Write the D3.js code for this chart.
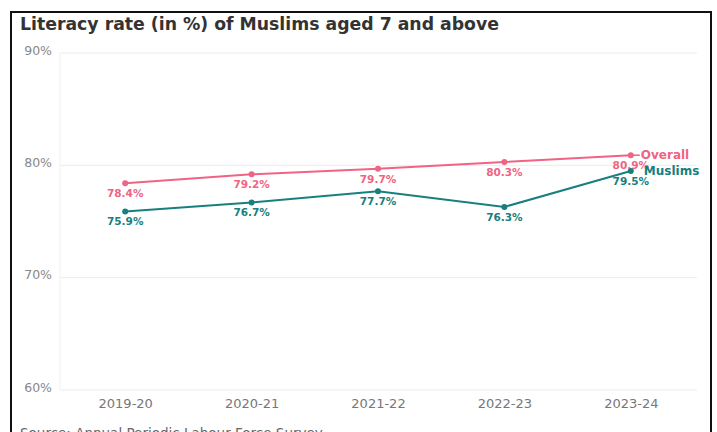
<!DOCTYPE html>
<html><head><meta charset="utf-8">
<script src="https://cdn.jsdelivr.net/npm/d3@7"></script>
<style>body{margin:0;background:#fff;}svg{display:block;}</style>
</head><body>
<svg id="c" width="717" height="432"></svg>
<script>
const categories = ["2019-20","2020-21","2021-22","2022-23","2023-24"];
const overall = [78.4, 79.2, 79.7, 80.3, 80.9];
const muslims = [75.9, 76.7, 77.7, 76.3, 79.5];
const yTicks = [60, 70, 80, 90];
const seriesNames = ["Overall", "Muslims"];
const colors = ["#ef6482", "#17807f"];

const svg = d3.select("#c");
const font = "'DejaVu Sans', 'Noto Sans', sans-serif";

// frame
svg.append("rect").attr("x",11).attr("y",12).attr("width",700).attr("height",440)
  .attr("fill","#fff").attr("stroke","#111").attr("stroke-width",2);

svg.append("text").attr("x",20).attr("y",30).attr("font-family",font)
  .attr("font-size",17.3).attr("font-weight",600).attr("fill","#333")
  .text("Literacy rate (in %) of Muslims aged 7 and above");

const x = d3.scalePoint().domain(categories).range([62,694]).padding(0.5);
const y = d3.scaleLinear().domain([60,90]).range([390,53]);

// grid
svg.append("g").selectAll("line").data(yTicks).join("line")
  .attr("x1",60).attr("x2",697).attr("y1",d=>y(d)).attr("y2",d=>y(d))
  .attr("stroke","#ececec").attr("stroke-width",1);
svg.append("line").attr("x1",60).attr("x2",60).attr("y1",y(90)).attr("y2",y(60))
  .attr("stroke","#f0f0f0");

// y axis labels
const ya = svg.append("g").attr("transform","translate(53,0)")
  .call(d3.axisLeft(y).tickValues(yTicks).tickSize(0).tickFormat(d=>d+"%"));
ya.select(".domain").remove();
ya.selectAll("text").attr("font-family",font).attr("font-size",12.5).attr("fill","#888")
  .attr("dy","0.1em").attr("x",-1);

// x axis labels
const xa = svg.append("g").attr("transform","translate(0,398)")
  .call(d3.axisBottom(x).tickSize(0));
xa.select(".domain").remove();
xa.selectAll("text").attr("font-family",font).attr("font-size",13).attr("fill","#777").attr("dy","0.55em");

// source
svg.append("text").attr("x",20).attr("y",438).attr("font-family",font)
  .attr("font-size",13.5).attr("fill","#666").text("Source: Annual Periodic Labour Force Survey");

const line = d3.line().x((d,i)=>x(categories[i])).y(d=>y(d));
[overall, muslims].forEach((vals, s) => {
  const g = svg.append("g");
  g.append("path").datum(vals).attr("d",line).attr("fill","none")
    .attr("stroke",colors[s]).attr("stroke-width",2);
  g.selectAll("circle").data(vals).join("circle")
    .attr("cx",(d,i)=>x(categories[i])).attr("cy",d=>y(d)).attr("r",3).attr("fill",colors[s]);
  g.selectAll("text.v").data(vals).join("text").attr("class","v")
    .attr("x",(d,i)=>x(categories[i])).attr("y",d=>y(d)+14)
    .attr("text-anchor","middle").attr("font-family",font).attr("font-size",10.5)
    .attr("font-weight",600).attr("fill",colors[s]).text(d=>d.toFixed(1)+"%");
  const last = vals.length-1;
  if (s===0) {
    g.append("line").attr("x1",x(categories[last])).attr("x2",x(categories[last])+9)
      .attr("y1",y(vals[last])).attr("y2",y(vals[last])).attr("stroke",colors[s]).attr("stroke-width",1.5);
  }
  g.append("text").attr("x",x(categories[last])+(s===0?10:13)).attr("y",y(vals[last])+4)
    .attr("font-family",font).attr("font-size",12).attr("font-weight",600)
    .attr("fill",colors[s]).text(seriesNames[s]);
});
</script>
</body></html>
